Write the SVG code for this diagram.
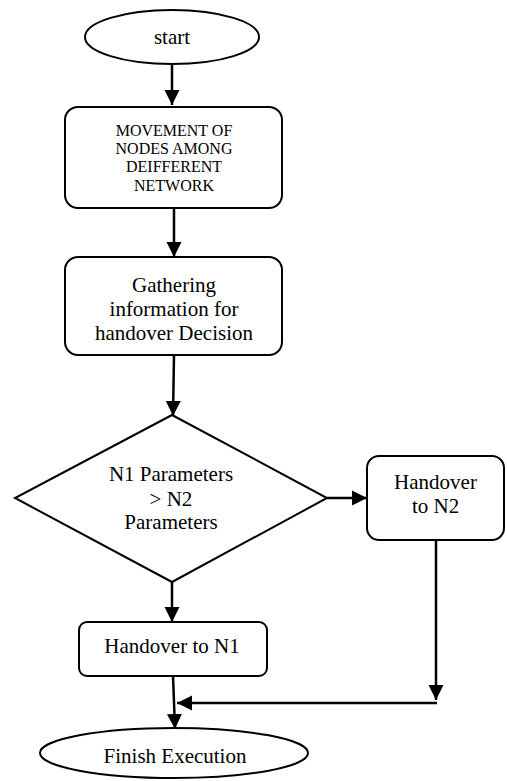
<svg xmlns="http://www.w3.org/2000/svg" width="507" height="781" viewBox="0 0 507 781">
<style>
.s{fill:#fff;stroke:#000;stroke-width:2}
.c{fill:none;stroke:#000;stroke-width:2.5}
.t{font-family:'Liberation Serif','DejaVu Serif',serif;font-size:21px;fill:#000;text-anchor:middle}
.sm{font-size:16px}
</style>
<defs>
<marker id="ah" markerUnits="userSpaceOnUse" markerWidth="16" markerHeight="16" viewBox="0 0 16 16" refX="15" refY="8" orient="auto">
<path d="M0,0.5 L15,8 L0,15.5 Z" fill="#000"/>
</marker>
</defs>
<rect width="507" height="781" fill="#fff"/>
<g id="connectors">
<line class="c" x1="172" y1="64" x2="172" y2="105" marker-end="url(#ah)"/>
<line class="c" x1="174" y1="208" x2="174" y2="257" marker-end="url(#ah)"/>
<line class="c" x1="174" y1="355" x2="173" y2="416" marker-end="url(#ah)"/>
<line class="c" x1="327" y1="498" x2="367" y2="498" marker-end="url(#ah)"/>
<line class="c" x1="172" y1="582" x2="172" y2="622" marker-end="url(#ah)"/>
<line class="c" x1="436" y1="540" x2="436" y2="700" marker-end="url(#ah)"/>
<line class="c" x1="437" y1="703" x2="177" y2="703" marker-end="url(#ah)"/>
<line class="c" x1="173" y1="676" x2="175" y2="729" marker-end="url(#ah)"/>
</g>
<g id="start">
<ellipse class="s" cx="172" cy="37" rx="87" ry="27"/>
<text class="t" font-family="Liberation Serif, serif" x="172" y="44">start</text>
</g>
<g id="movement">
<rect class="s" x="65" y="107" width="217" height="101" rx="13"/>
<text class="t sm" font-family="Liberation Serif, serif" x="174" y="136">MOVEMENT OF</text>
<text class="t sm" font-family="Liberation Serif, serif" x="174" y="154">NODES AMONG</text>
<text class="t sm" font-family="Liberation Serif, serif" x="174" y="172">DEIFFERENT</text>
<text class="t sm" font-family="Liberation Serif, serif" x="174" y="191">NETWORK</text>
</g>
<g id="gathering">
<rect class="s" x="65" y="257" width="217" height="98" rx="13"/>
<text class="t" font-family="Liberation Serif, serif" x="174" y="292">Gathering</text>
<text class="t" font-family="Liberation Serif, serif" x="174" y="316">information for</text>
<text class="t" font-family="Liberation Serif, serif" x="174" y="340">handover Decision</text>
</g>
<g id="decision">
<polygon class="s" points="172,415 327,498 172,582 15,498"/>
<text class="t" font-family="Liberation Serif, serif" x="171" y="481">N1 Parameters</text>
<text class="t" font-family="Liberation Serif, serif" x="171" y="506">&gt; N2</text>
<text class="t" font-family="Liberation Serif, serif" x="171" y="529">Parameters</text>
</g>
<g id="handover-n2">
<rect class="s" x="367" y="456" width="137" height="84" rx="12"/>
<text class="t" font-family="Liberation Serif, serif" x="435.5" y="489">Handover</text>
<text class="t" font-family="Liberation Serif, serif" x="435.5" y="513">to N2</text>
</g>
<g id="handover-n1">
<rect class="s" x="79" y="622" width="188" height="54" rx="8"/>
<text class="t" font-family="Liberation Serif, serif" x="172" y="653">Handover to N1</text>
</g>
<g id="finish">
<ellipse class="s" cx="174" cy="753" rx="134" ry="25"/>
<text class="t" font-family="Liberation Serif, serif" x="175" y="763">Finish Execution</text>
</g>
</svg>
